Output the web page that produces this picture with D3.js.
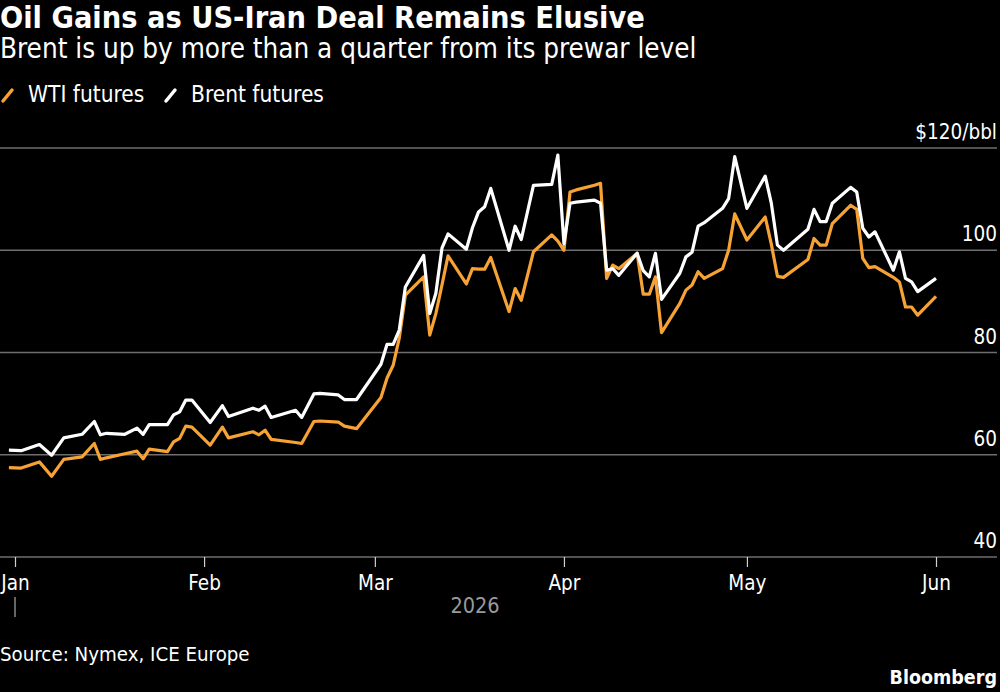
<!DOCTYPE html>
<html>
<head>
<meta charset="utf-8">
<script src="https://cdn.jsdelivr.net/npm/d3@7"></script>
<style>
	body{margin:0;background:#000;}
	svg{display:block;}
	text{font-family:"DejaVu Sans Condensed","DejaVu Sans",sans-serif;}
</style>
</head>
<body>
<div id="chart"></div>
<script>
let dates = ['2025-12-31','2026-01-02','2026-01-05','2026-01-07','2026-01-09','2026-01-12','2026-01-14','2026-01-15','2026-01-16','2026-01-19',
	'2026-01-21','2026-01-22','2026-01-23','2026-01-26','2026-01-27','2026-01-28','2026-01-29','2026-01-30','2026-02-02','2026-02-04',
	'2026-02-05','2026-02-09','2026-02-10','2026-02-11','2026-02-12','2026-02-16','2026-02-17','2026-02-19','2026-02-20','2026-02-23',
	'2026-02-24','2026-02-26','2026-03-02','2026-03-03','2026-03-04','2026-03-05','2026-03-06','2026-03-09','2026-03-10','2026-03-11',
	'2026-03-12','2026-03-13','2026-03-16','2026-03-17','2026-03-18','2026-03-19','2026-03-20','2026-03-23','2026-03-24','2026-03-25',
	'2026-03-27','2026-03-30','2026-03-31','2026-04-01','2026-04-02','2026-04-03','2026-04-06','2026-04-07','2026-04-08','2026-04-09',
	'2026-04-10','2026-04-13','2026-04-14','2026-04-15','2026-04-16','2026-04-17','2026-04-20','2026-04-21','2026-04-22','2026-04-23',
	'2026-04-24','2026-04-27','2026-04-28','2026-04-29','2026-05-01','2026-05-04','2026-05-05','2026-05-06','2026-05-07','2026-05-11',
	'2026-05-12','2026-05-13','2026-05-14','2026-05-15','2026-05-18','2026-05-19','2026-05-20','2026-05-21','2026-05-22','2026-05-25',
	'2026-05-26','2026-05-27','2026-05-28','2026-05-29','2026-06-01']

let wti = [57.5,57.4,58.6,55.8,59.1,59.6,62.2,59.1,59.4,60.2,
	60.7,59.2,61.1,60.6,62.5,63.2,65.6,65.4,61.9,65.4,
	63.3,64.5,63.9,64.8,63.0,62.4,62.2,66.5,66.6,66.4,
	65.6,65.1,71.2,75.0,77.5,82.8,91.2,94.8,83.4,87.6,
	93.2,98.9,93.4,96.4,96.3,96.3,98.6,88.0,92.5,90.2,
	99.7,103.0,101.8,100.0,111.4,111.8,112.7,113.1,94.5,97.1,
	96.4,99.4,91.4,91.4,94.8,83.9,89.6,92.2,93.2,95.8,
	94.5,96.4,100.0,107.1,102.0,106.5,101.2,94.9,94.7,98.2,
	102.3,101.0,101.0,105.2,108.8,108.0,98.4,96.6,96.8,94.7,
	93.8,88.9,88.9,87.3,91.0]

let brent = [60.9,60.8,62.0,59.9,63.3,64.0,66.5,63.9,64.2,64.0,
	65.2,64.0,65.9,65.9,67.8,68.4,70.7,70.7,66.3,69.6,
	67.5,69.1,68.7,69.5,67.3,68.7,67.3,71.9,72.0,71.7,
	70.8,70.8,77.7,81.6,81.6,84.4,92.8,99.0,87.6,91.6,
	100.4,103.2,100.2,104.4,107.5,108.5,112.1,100.0,104.7,102.1,
	112.7,112.9,118.6,101.3,109.2,109.4,109.8,109.2,96.1,96.4,
	95.1,99.4,96.0,94.8,99.4,90.4,95.5,98.7,99.6,104.7,
	105.4,108.2,110.1,118.3,108.2,114.5,109.2,101.0,100.0,104.1,
	108.0,105.6,105.6,109.2,112.3,111.4,104.3,102.6,103.6,96.1,
	99.7,94.5,93.8,91.9,94.5]

let yTicks = [40,60,80,100,120]
let monthTicks = ['2026-01-01','2026-02-01','2026-03-01','2026-04-01','2026-05-01','2026-06-01']

let seriesNames = ['WTI futures','Brent futures']
let seriesColours = ['#f7a235','#ffffff']

function drawChart(){
	let width = 1000, height = 692
	let svg = d3.select('#chart').append('svg').attr('width',width).attr('height',height)
	svg.append('rect').attr('width',width).attr('height',height).attr('fill','#000')

	let parse = d3.utcParse('%Y-%m-%d')
	let x = d3.scaleUtc().domain([parse('2026-01-01'),parse('2026-06-01')]).range([15,936])
	let y = d3.scaleLinear().domain([40,120]).range([557,148])

	// titles
	svg.append('text').attr('x',0).attr('y',28).attr('fill','#fff')
		.attr('font-size',30.4).attr('font-weight','bold').text('Oil Gains as US-Iran Deal Remains Elusive')
	svg.append('text').attr('x',0).attr('y',58).attr('fill','#fff')
		.attr('font-size',27.6).text('Brent is up by more than a quarter from its prewar level')

	// legend
	let legendX = [0,163]
	seriesNames.forEach(function(name,i){
		let g = svg.append('g').attr('transform','translate('+legendX[i]+',0)')
		g.append('line').attr('x1',3).attr('y1',101).attr('x2',12).attr('y2',90)
			.attr('stroke',seriesColours[i]).attr('stroke-width',3.5).attr('stroke-linecap','round')
		g.append('text').attr('x',28).attr('y',102).attr('fill','#fff').attr('font-size',22.5).text(name)
	})

	// grid + y labels
	svg.append('g').selectAll('line').data(yTicks).join('line')
		.attr('x1',0).attr('x2',997).attr('y1',d=>y(d)).attr('y2',d=>y(d))
		.attr('stroke','#6e6e6e').attr('stroke-width',1.5)
	svg.append('g').selectAll('text').data(yTicks).join('text')
		.attr('x',997).attr('y',d=>y(d)-9).attr('text-anchor','end')
		.attr('fill','#fff').attr('font-size',20.5)
		.text(d=>d==120 ? '$120/bbl' : d)

	// x axis
	let xAxis = d3.axisBottom(x).tickValues(monthTicks.map(parse)).tickSize(10).tickPadding(8)
		.tickFormat(d3.utcFormat('%b'))
	let ax = svg.append('g').attr('transform','translate(0,557)').call(xAxis)
	ax.select('.domain').remove()
	ax.selectAll('line').attr('stroke','#cfcfcf').attr('stroke-width',1.2)
	ax.selectAll('text').attr('fill','#fff').attr('font-size',20.5)
		.attr('font-family','"DejaVu Sans Condensed","DejaVu Sans",sans-serif')
	svg.append('line').attr('x1',x(parse('2026-01-01'))).attr('x2',x(parse('2026-01-01')))
		.attr('y1',597).attr('y2',617).attr('stroke','#aaa').attr('stroke-width',1.2)
	svg.append('text').attr('x',475).attr('y',613).attr('text-anchor','middle')
		.attr('fill','#9a9a9a').attr('font-size',21.5).text('2026')

	// lines
	let line = d3.line().x(d=>x(d[0])).y(d=>y(d[1]))
	let series = [wti,brent]
	series.forEach(function(vals,i){
		let pts = dates.map(function(d,j){ return [parse(d),vals[j]] })
		svg.append('path').datum(pts).attr('d',line).attr('fill','none')
			.attr('stroke',seriesColours[i]).attr('stroke-width',3.2).attr('stroke-linejoin','round')
	})

	// footer
	svg.append('text').attr('x',0).attr('y',661).attr('fill','#fff').attr('font-size',20.3)
		.text('Source: Nymex, ICE Europe')
	svg.append('text').attr('x',997).attr('y',684).attr('text-anchor','end').attr('fill','#fff')
		.attr('font-size',19.5).attr('font-weight','bold').text('Bloomberg')
}

drawChart()
</script>
</body>
</html>
